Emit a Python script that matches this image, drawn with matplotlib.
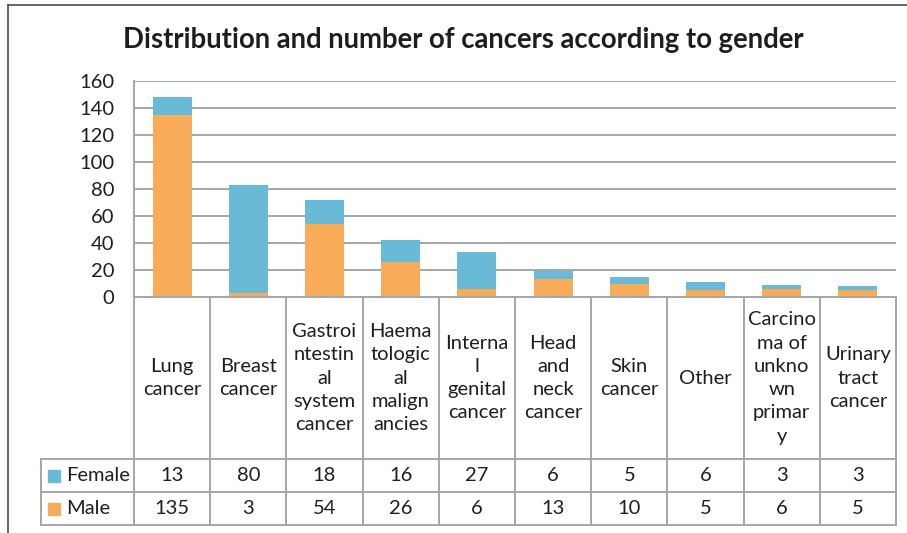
import numpy as np
import matplotlib.pyplot as plt
from matplotlib.lines import Line2D

plt.rcParams['font.family'] = ['Lato', 'DejaVu Sans']

categories = ["Lung\ncancer", "Breast\ncancer", "Gastroi\nntestin\nal\nsystem\ncancer",
              "Haema\ntologic\nal\nmalign\nancies", "Interna\nl\ngenital\ncancer",
              "Head\nand\nneck\ncancer", "Skin\ncancer", "Other",
              "Carcino\nma of\nunkno\nwn\nprimar\ny", "Urinary\ntract\ncancer"]
female = [13, 80, 18, 16, 27, 6, 5, 6, 3, 3]
male = [135, 3, 54, 26, 6, 13, 10, 5, 6, 5]
series_names = ["Female", "Male"]

orange = '#F8AC59'
blue = '#68BAD6'
grey = '#A6A6A6'
txt = '#1e1e1e'
fs = 14.5

W, H = 907, 533


def rect(x0, y0, x1, y1):
    return [x0 / W, 1 - y1 / H, (x1 - x0) / W, (y1 - y0) / H]


fig = plt.figure(figsize=(W / 100, H / 100), dpi=100)

# outer frame (left and top edges visible)
fig.add_artist(Line2D([8 / W, 8 / W], [0, 1 - 5 / H], color='#4d4d4d', lw=1.2))
fig.add_artist(Line2D([8 / W, 1], [1 - 5 / H, 1 - 5 / H], color='#4d4d4d', lw=1.2))

fig.text(463 / W, 1 - 40 / H, "Distribution and number of cancers according to gender",
         ha='center', va='center', fontsize=19.8, fontweight='bold', color=txt)

ax = fig.add_axes(rect(134, 81, 896, 297))
ax_t = fig.add_axes(rect(134, 297, 896, 525), sharex=ax)

x = np.arange(len(categories))
ax.bar(x, male, width=0.51, color=orange, zorder=3)
ax.bar(x, female, bottom=male, width=0.51, color=blue, zorder=3)
ax.set_xlim(-0.5, len(categories) - 0.5)
ax.set_ylim(0, 160)
ax.set_yticks(range(0, 161, 20))
ax.grid(axis='y', color=grey, lw=1.4, zorder=0)
ax.set_axisbelow(True)
for s in ['top', 'right', 'bottom']:
    ax.spines[s].set_visible(False)
ax.spines['left'].set_color(grey)
ax.spines['left'].set_linewidth(1.4)
ax.tick_params(axis='y', length=0, pad=14, labelsize=fs, labelcolor=txt)
ax.tick_params(axis='x', bottom=False, labelbottom=False)

# data table under the chart
ax_t.set_ylim(1, 0)
ax_t.axis('off')
cat_w = (896 - 134) / len(categories)
leg_w = (134 - 41) / cat_w
hb = 162 / 228
fb = 195 / 228
x_left = -0.5
x_right = len(categories) - 0.5
line_kw = dict(color=grey, lw=1.4, clip_on=False)

for b in np.arange(x_left, x_right + 0.01, 1):
    ax_t.plot([b, b], [0, 1], **line_kw)
ax_t.plot([x_left, x_right], [0, 0], **line_kw)
for yy in [hb, fb, 1]:
    ax_t.plot([x_left - leg_w, x_right], [yy, yy], **line_kw)
ax_t.plot([x_left - leg_w, x_left - leg_w], [hb, 1], **line_kw)

for i, c in enumerate(categories):
    ax_t.text(i, hb / 2, c, ha='center', va='center', fontsize=fs,
              color=txt, linespacing=1.45)
    ax_t.text(i, (hb + fb) / 2, str(female[i]), ha='center', va='center',
              fontsize=fs, color=txt)
    ax_t.text(i, (fb + 1) / 2, str(male[i]), ha='center', va='center',
              fontsize=fs, color=txt)

for name, col, y0, y1 in [(series_names[0], blue, hb, fb), (series_names[1], orange, fb, 1)]:
    ym = (y0 + y1) / 2
    ax_t.plot([x_left - leg_w + 13.5 / cat_w], [ym], marker='s', markersize=8,
              color=col, clip_on=False)
    ax_t.text(x_left - leg_w + 25 / cat_w, ym, name, ha='left', va='center',
              fontsize=fs, color=txt)

fig.savefig('out.png', dpi=100)
